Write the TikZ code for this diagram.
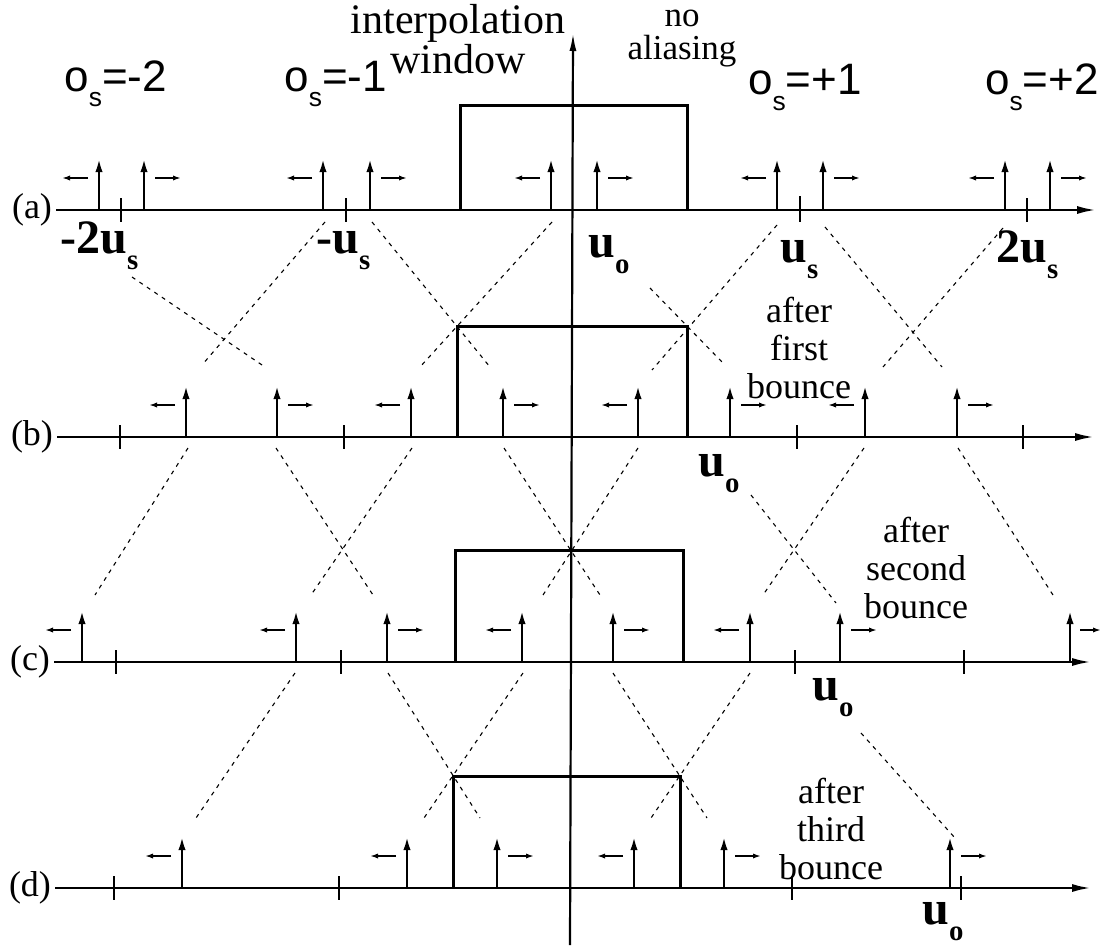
\documentclass[tikz,border=0pt]{standalone}
\usepackage{fontspec}
\setmainfont{Liberation Serif}
\newfontfamily\helv{Liberation Sans}
\usepackage{graphicx}
\usetikzlibrary{arrows.meta, positioning}
\newcommand{\lowsub}[1]{\raisebox{-0.35em}{\scalebox{0.6}{#1}}}

\begin{document}
\begin{tikzpicture}[
  x=0.5pt, y=-0.5pt,
  baseaxis/.style={line width=1.4pt, -{Latex[length=10pt, width=4pt]}},
  vaxis/.style={line width=1.1pt, -{Latex[length=9pt, width=3.5pt]}},
  impulse/.style={line width=1.3pt, -{Latex[length=7pt, width=3.6pt]}},
  drift/.style={line width=1pt, -{Latex[length=4pt, width=2.6pt]}},
  tickmark/.style={line width=1pt},
  window/.style={line width=1.5pt},
  track/.style={line width=0.55pt, dash pattern=on 2pt off 2.5pt},
  rowlabel/.style={font=\fontsize{18}{20}\selectfont, inner sep=2pt},
  order/.style={font=\helv\fontsize{22}{24}\selectfont, inner sep=0pt},
  freq/.style={font=\bfseries\fontsize{24}{26}\selectfont, inner sep=0pt},
  note/.style={align=center, font=\fontsize{18}{19}\selectfont, inner sep=0pt}
]
\useasboundingbox (0,0) rectangle (1102,947);

% row labels and axes
\node[rowlabel] (la) at (32,210) {(a)};
\node[rowlabel] (lb) at (32,437) {(b)};
\node[rowlabel] (lc) at (30,662) {(c)};
\node[rowlabel] (ld) at (30,888) {(d)};
\coordinate (ea) at (1097,210);
\coordinate (eb) at (1095,437);
\coordinate (ec) at (1092,662);
\coordinate (ed) at (1092,888);
\draw[baseaxis] (la.east) -- (ea);
\draw[baseaxis] (lb.east) -- (eb);
\draw[baseaxis] (lc.east) -- (ec);
\draw[baseaxis] (ld.east) -- (ed);
\coordinate (vbot) at (570,945);
\coordinate (vtop) at (573,33);
\draw[vaxis] (vbot) -- (vtop);

% ticks
\draw[tickmark] (121,198) -- ++(0,24) (346,198) -- ++(0,24) (800,196) -- ++(0,26) (1027,198) -- ++(0,24);
\draw[tickmark] (120,425) -- ++(0,24) (344,425) -- ++(0,24) (797,425) -- ++(0,24) (1023,425) -- ++(0,24);
\draw[tickmark] (116,650) -- ++(0,24) (341,650) -- ++(0,24) (795,650) -- ++(0,24) (964,650) -- ++(0,24);
\draw[tickmark] (114,876) -- ++(0,24) (339,876) -- ++(0,24) (792,876) -- ++(0,24) (961,876) -- ++(0,24);

% interpolation windows
\draw[window] (460,210) |- (687,106) -- (687,210);
\draw[window] (457,437) |- (687,326) -- (687,437);
\draw[window] (455,662) |- (683,550) -- (683,662);
\draw[window] (453,888) |- (680,776) -- (680,888);

% (a)
\draw[impulse] (99,210) -- ++(0,-52);   \draw[drift] (88,178) -- ++(-26,0);
\draw[impulse] (144,210) -- ++(0,-52);  \draw[drift] (155,178) -- ++(26,0);
\draw[impulse] (323,210) -- ++(0,-52);  \draw[drift] (312,178) -- ++(-26,0);
\draw[impulse] (370,210) -- ++(0,-52);  \draw[drift] (381,178) -- ++(26,0);
\draw[impulse] (551,210) -- ++(0,-52);  \draw[drift] (540,178) -- ++(-26,0);
\draw[impulse] (597,210) -- ++(0,-52);  \draw[drift] (608,178) -- ++(26,0);
\draw[impulse] (777,210) -- ++(0,-52);  \draw[drift] (766,178) -- ++(-26,0);
\draw[impulse] (823,210) -- ++(0,-52);  \draw[drift] (834,178) -- ++(26,0);
\draw[impulse] (1005,210) -- ++(0,-52); \draw[drift] (994,178) -- ++(-26,0);
\draw[impulse] (1050,210) -- ++(0,-52); \draw[drift] (1061,178) -- ++(26,0);

% (b)
\draw[impulse] (186,437) -- ++(0,-52);  \draw[drift] (175,405) -- ++(-26,0);
\draw[impulse] (277,437) -- ++(0,-52);  \draw[drift] (288,405) -- ++(26,0);
\draw[impulse] (411,437) -- ++(0,-52);  \draw[drift] (400,405) -- ++(-26,0);
\draw[impulse] (503,437) -- ++(0,-52);  \draw[drift] (514,405) -- ++(26,0);
\draw[impulse] (638,437) -- ++(0,-52);  \draw[drift] (627,405) -- ++(-26,0);
\draw[impulse] (730,437) -- ++(0,-52);  \draw[drift] (741,405) -- ++(26,0);
\draw[impulse] (865,437) -- ++(0,-52);  \draw[drift] (854,405) -- ++(-26,0);
\draw[impulse] (957,437) -- ++(0,-52);  \draw[drift] (968,405) -- ++(26,0);

% (c)
\draw[impulse] (82,662) -- ++(0,-52);   \draw[drift] (71,630) -- ++(-26,0);
\draw[impulse] (296,662) -- ++(0,-52);  \draw[drift] (285,630) -- ++(-26,0);
\draw[impulse] (387,662) -- ++(0,-52);  \draw[drift] (398,630) -- ++(26,0);
\draw[impulse] (522,662) -- ++(0,-52);  \draw[drift] (511,630) -- ++(-26,0);
\draw[impulse] (613,662) -- ++(0,-52);  \draw[drift] (624,630) -- ++(26,0);
\draw[impulse] (750,662) -- ++(0,-52);  \draw[drift] (739,630) -- ++(-26,0);
\draw[impulse] (840,662) -- ++(0,-52);  \draw[drift] (851,630) -- ++(26,0);
\draw[impulse] (1070,662) -- ++(0,-52); \draw[drift] (1080,630) -- ++(21,0);

% (d)
\draw[impulse] (182,888) -- ++(0,-52);  \draw[drift] (171,856) -- ++(-26,0);
\draw[impulse] (407,888) -- ++(0,-52);  \draw[drift] (396,856) -- ++(-26,0);
\draw[impulse] (497,888) -- ++(0,-52);  \draw[drift] (508,856) -- ++(26,0);
\draw[impulse] (634,888) -- ++(0,-52);  \draw[drift] (623,856) -- ++(-26,0);
\draw[impulse] (724,888) -- ++(0,-52);  \draw[drift] (735,856) -- ++(26,0);
\draw[impulse] (950,888) -- ++(0,-52);  \draw[drift] (961,856) -- ++(26,0);

% paths of the images between rows
\draw[track] (132,277) -- (265,367);
\draw[track] (325,222) -- (202,365);
\draw[track] (372,222) -- (490,367);
\draw[track] (552,222) -- (420,367);
\draw[track] (650,288) -- (722,362);
\draw[track] (777,225) -- (652,370);
\draw[track] (825,227) -- (942,367);
\draw[track] (1003,228) -- (883,367);
\draw[track] (188,448) -- (95,595);
\draw[track] (276,448) -- (373,595);
\draw[track] (412,448) -- (311,595);
\draw[track] (504,448) -- (600,595);
\draw[track] (638,448) -- (543,595);
\draw[track] (751,495) -- (836,603);
\draw[track] (864,448) -- (763,595);
\draw[track] (958,448) -- (1053,595);
\draw[track] (295,673) -- (196,818);
\draw[track] (388,673) -- (480,818);
\draw[track] (523,673) -- (424,818);
\draw[track] (613,673) -- (707,818);
\draw[track] (750,673) -- (651,818);
\draw[track] (861,733) -- (955,838);

% texts
\node[align=center, font=\fontsize{21}{18}\selectfont, inner sep=0pt, anchor=north] (interp) at (458,4) {interpolation\\window};
\node[align=center, font=\fontsize{17.5}{16.5}\selectfont, inner sep=0pt, anchor=north] (noalias) at (682,10) {no\\aliasing};
\node[order, anchor=base west] (om2) at (64,91) {o\lowsub{s}=-2};
\node[order, anchor=base west] (om1) at (284,91) {o\lowsub{s}=-1};
\node[order, anchor=base east] (op1) at (862,95) {o\lowsub{s}=+1};
\node[order, anchor=base east] (op2) at (1099,95) {o\lowsub{s}=+2};
\node[freq, anchor=base west] (fm2) at (60,253) {-2u\lowsub{s}};
\node[freq, anchor=base west] (fm1) at (316,253) {-u\lowsub{s}};
\node[freq, anchor=base west] (uoa) at (588,257) {u\lowsub{o}};
\node[freq, anchor=base west] (fp1) at (780,262) {u\lowsub{s}};
\node[freq, anchor=base west] (fp2) at (996,262) {2u\lowsub{s}};
\node[freq, anchor=base west] (uob) at (698,476) {u\lowsub{o}};
\node[freq, anchor=base west] (uoc) at (812,700) {u\lowsub{o}};
\node[freq, anchor=base west] (uod) at (922,924) {u\lowsub{o}};
\node[note, anchor=north] (first) at (799,297) {after\\first\\bounce};
\node[note, anchor=north] (second) at (916,517) {after\\second\\bounce};
\node[note, anchor=north] (third) at (831,778) {after\\third\\bounce};
\end{tikzpicture}
\end{document}
